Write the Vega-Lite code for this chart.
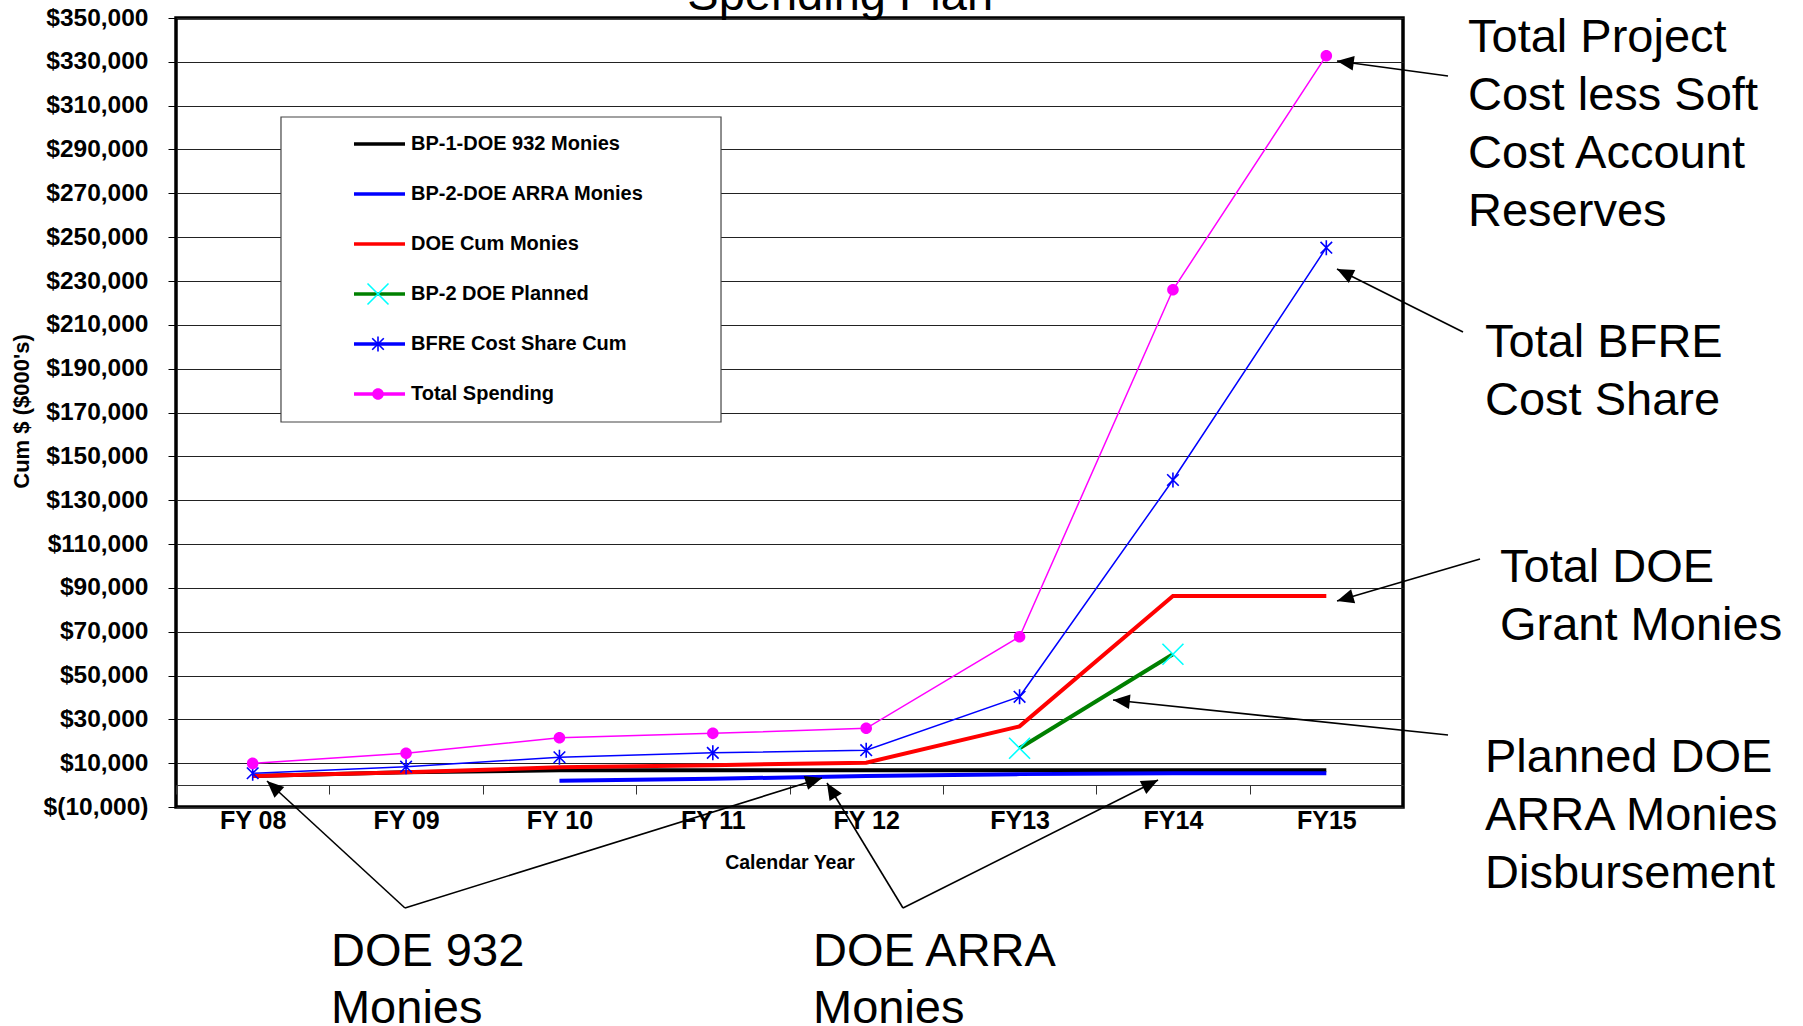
{
  "$schema": "https://vega.github.io/schema/vega-lite/v6.json",
  "width": 1227,
  "height": 789,
  "autosize": {"type": "none"},
  "padding": {"left": 176, "top": 18, "right": 400, "bottom": 219},
  "background": "#ffffff",
  "config": {"view": {"stroke": "#000000", "strokeWidth": 3.5}, "font": "Liberation Sans"},
  "datasets": {
    "spend": [
      {"series": "BP-1-DOE 932 Monies", "year": "FY 08", "value": 4100},
      {"series": "BP-1-DOE 932 Monies", "year": "FY 09", "value": 5800},
      {"series": "BP-1-DOE 932 Monies", "year": "FY 10", "value": 6800},
      {"series": "BP-1-DOE 932 Monies", "year": "FY 11", "value": 6800},
      {"series": "BP-1-DOE 932 Monies", "year": "FY 12", "value": 6800},
      {"series": "BP-1-DOE 932 Monies", "year": "FY13", "value": 6800},
      {"series": "BP-1-DOE 932 Monies", "year": "FY14", "value": 6800},
      {"series": "BP-1-DOE 932 Monies", "year": "FY15", "value": 6800},
      {"series": "BP-2-DOE ARRA Monies", "year": "FY 10", "value": 2000},
      {"series": "BP-2-DOE ARRA Monies", "year": "FY 11", "value": 2900},
      {"series": "BP-2-DOE ARRA Monies", "year": "FY 12", "value": 4100},
      {"series": "BP-2-DOE ARRA Monies", "year": "FY13", "value": 5000},
      {"series": "BP-2-DOE ARRA Monies", "year": "FY14", "value": 5400},
      {"series": "BP-2-DOE ARRA Monies", "year": "FY15", "value": 5400},
      {"series": "DOE Cum Monies", "year": "FY 08", "value": 4100},
      {"series": "DOE Cum Monies", "year": "FY 09", "value": 5900},
      {"series": "DOE Cum Monies", "year": "FY 10", "value": 8100},
      {"series": "DOE Cum Monies", "year": "FY 11", "value": 9100},
      {"series": "DOE Cum Monies", "year": "FY 12", "value": 10200},
      {"series": "DOE Cum Monies", "year": "FY13", "value": 26800},
      {"series": "DOE Cum Monies", "year": "FY14", "value": 86300},
      {"series": "DOE Cum Monies", "year": "FY15", "value": 86300},
      {"series": "BP-2 DOE Planned", "year": "FY13", "value": 16800},
      {"series": "BP-2 DOE Planned", "year": "FY14", "value": 59700},
      {"series": "BFRE Cost Share Cum", "year": "FY 08", "value": 5400},
      {"series": "BFRE Cost Share Cum", "year": "FY 09", "value": 8400},
      {"series": "BFRE Cost Share Cum", "year": "FY 10", "value": 12700},
      {"series": "BFRE Cost Share Cum", "year": "FY 11", "value": 14700},
      {"series": "BFRE Cost Share Cum", "year": "FY 12", "value": 15900},
      {"series": "BFRE Cost Share Cum", "year": "FY13", "value": 40300},
      {"series": "BFRE Cost Share Cum", "year": "FY14", "value": 139200},
      {"series": "BFRE Cost Share Cum", "year": "FY15", "value": 245200},
      {"series": "Total Spending", "year": "FY 08", "value": 9900},
      {"series": "Total Spending", "year": "FY 09", "value": 14500},
      {"series": "Total Spending", "year": "FY 10", "value": 21600},
      {"series": "Total Spending", "year": "FY 11", "value": 23600},
      {"series": "Total Spending", "year": "FY 12", "value": 25900},
      {"series": "Total Spending", "year": "FY13", "value": 67700},
      {"series": "Total Spending", "year": "FY14", "value": 226000},
      {"series": "Total Spending", "year": "FY15", "value": 332800}
    ]
  },
  "layer": [
    {
      "data": {"values": [{}]},
      "mark": {"type": "rect", "fill": "#ffffff", "stroke": "#444444", "strokeWidth": 1.2, "xOffset": 28.3, "x2Offset": 8.2},
      "encoding": {
        "x": {
          "datum": "FY 08", "bandPosition": 0.5,
          "scale": {"type": "band", "domain": ["FY 08", "FY 09", "FY 10", "FY 11", "FY 12", "FY13", "FY14", "FY15"], "paddingInner": 0, "paddingOuter": 0},
          "axis": {
            "title": "Calendar Year", "titleFont": "Liberation Sans", "titleFontSize": 19.5, "titleFontWeight": "bold", "titleColor": "#000000", "titleY": 83, "titleBaseline": "alphabetic",
            "offset": -22, "domain": true, "domainColor": "#333333", "domainWidth": 1.2,
            "ticks": true, "tickSize": 9, "tickColor": "#333333", "tickWidth": 1, "bandPosition": 0.5, "tickOffset": -76.6875, "labelOffset": 76.6875,
            "labelFont": "Liberation Sans", "labelFontSize": 25, "labelFontWeight": "bold", "labelColor": "#000000", "labelPadding": 14, "labelAngle": 0,
            "grid": false, "zindex": 0
          }
        },
        "x2": {"datum": "FY 11", "bandPosition": 0.5},
        "y": {
          "datum": 304829,
          "scale": {"domain": [-10000, 350000], "nice": false, "zero": false},
          "axis": {
            "title": "Cum $ ($000's)", "titleFont": "Liberation Sans", "titleFontSize": 22, "titleFontWeight": "bold", "titleColor": "#000000",
            "titleX": -155, "titleY": 393, "titleAngle": 270, "titleAlign": "center", "titleBaseline": "middle",
            "values": [-10000, 10000, 30000, 50000, 70000, 90000, 110000, 130000, 150000, 170000, 190000, 210000, 230000, 250000, 270000, 290000, 310000, 330000, 350000],
            "labelExpr": "datum.value < 0 ? '$(' + format(-datum.value, ',') + ')' : '$' + format(datum.value, ',')",
            "labelFont": "Liberation Sans", "labelFontSize": 24.5, "labelFontWeight": "bold", "labelColor": "#000000", "labelPadding": 20,
            "labelFlush": false, "labelOverlap": false,
            "tickSize": 8, "tickColor": "#000000", "tickWidth": 1,
            "domain": false, "grid": true, "gridColor": "#222222", "gridWidth": 1, "zindex": 0
          }
        },
        "y2": {"datum": 165665}
      }
    },
    {
      "data": {"name": "spend"},
      "transform": [{"filter": {"field": "series", "oneOf": ["BP-1-DOE 932 Monies", "BP-2-DOE ARRA Monies", "DOE Cum Monies", "BP-2 DOE Planned"]}}],
      "mark": {"type": "line", "strokeWidth": 4},
      "encoding": {
        "x": {"field": "year", "type": "nominal"},
        "y": {"field": "value", "type": "quantitative"},
        "stroke": {
          "field": "series", "type": "nominal",
          "scale": {"domain": ["BP-1-DOE 932 Monies", "BP-2-DOE ARRA Monies", "DOE Cum Monies", "BP-2 DOE Planned", "BFRE Cost Share Cum", "Total Spending"], "range": ["#000000", "#0000ff", "#ff0000", "#008000", "#0000ff", "#ff00ff"]},
          "legend": {
            "orient": "none", "legendX": 105, "legendY": 99, "title": null, "padding": 2,
            "symbolType": "stroke", "symbolSize": 2601, "symbolStrokeWidth": 3.5, "symbolOffset": 69,
            "labelFont": "Liberation Sans", "labelFontSize": 20, "labelFontWeight": "bold", "labelColor": "#000000", "labelOffset": 4, "labelLimit": 400,
            "clipHeight": 50, "rowPadding": 0
          }
        }
      }
    },
    {
      "data": {"name": "spend"},
      "transform": [{"filter": {"field": "series", "oneOf": ["BFRE Cost Share Cum", "Total Spending"]}}],
      "mark": {"type": "line", "strokeWidth": 1.5},
      "encoding": {
        "x": {"field": "year", "type": "nominal"},
        "y": {"field": "value", "type": "quantitative"},
        "stroke": {"field": "series", "type": "nominal"}
      }
    },
    {
      "data": {"name": "spend"},
      "transform": [{"filter": {"field": "series", "oneOf": ["BP-2 DOE Planned", "BFRE Cost Share Cum", "Total Spending"]}}],
      "mark": {"type": "point", "filled": true, "size": 400, "opacity": 1, "strokeWidth": 0},
      "encoding": {
        "x": {"field": "year", "type": "nominal"},
        "y": {"field": "value", "type": "quantitative"},
        "color": {
          "field": "series", "type": "nominal",
          "scale": {"domain": ["Total Spending", "BFRE Cost Share Cum", "BP-2 DOE Planned", "DOE Cum Monies", "BP-2-DOE ARRA Monies", "BP-1-DOE 932 Monies"], "range": ["#ff00ff", "#0000ff", "#00ffff", "transparent", "transparent", "transparent"]},
          "legend": {
            "orient": "top-left", "offset": 99, "title": null, "padding": 2,
            "values": ["BP-1-DOE 932 Monies", "BP-2-DOE ARRA Monies", "DOE Cum Monies", "BP-2 DOE Planned", "BFRE Cost Share Cum", "Total Spending"],
            "symbolSize": 400, "symbolStrokeWidth": 0, "symbolOffset": 91,
            "labelExpr": "''", "labelFont": "Liberation Sans", "labelFontSize": 20, "labelFontWeight": "bold", "labelOpacity": 0, "labelOffset": 4, "labelLimit": 400,
            "clipHeight": 50, "rowPadding": 0
          }
        },
        "shape": {
          "field": "series", "type": "nominal",
          "scale": {"domain": ["Total Spending", "BFRE Cost Share Cum", "BP-2 DOE Planned", "DOE Cum Monies", "BP-2-DOE ARRA Monies", "BP-1-DOE 932 Monies"],
            "range": [
              "M-0.58,0A0.58,0.58,0,1,1,0.58,0A0.58,0.58,0,1,1,-0.58,0Z",
              "M-0.08,-0.75L0.08,-0.75L0.08,0.75L-0.08,0.75ZM-0.523,-0.637L0.637,0.523L0.523,0.637L-0.637,-0.523ZM-0.523,0.637L-0.637,0.523L0.523,-0.637L0.637,-0.523Z",
              "M-0.993,-1.107L1.107,0.993L0.993,1.107L-1.107,-0.993ZM-0.993,1.107L-1.107,0.993L0.993,-1.107L1.107,-0.993Z",
              "M0,0L0,0Z", "M0,0L0,0Z", "M0,0L0,0Z"]},
          "legend": {
            "orient": "top-left", "offset": 99, "title": null, "padding": 2,
            "values": ["BP-1-DOE 932 Monies", "BP-2-DOE ARRA Monies", "DOE Cum Monies", "BP-2 DOE Planned", "BFRE Cost Share Cum", "Total Spending"],
            "symbolSize": 400, "symbolStrokeWidth": 0, "symbolOffset": 91,
            "labelExpr": "''", "labelFont": "Liberation Sans", "labelFontSize": 20, "labelFontWeight": "bold", "labelOpacity": 0, "labelOffset": 4, "labelLimit": 400,
            "clipHeight": 50, "rowPadding": 0
          }
        }
      }
    },
    {
      "data": {"values": [{}]},
      "mark": {"type": "text", "align": "center", "baseline": "alphabetic", "font": "Liberation Sans", "fontSize": 47, "color": "#000000", "dx": -26},
      "encoding": {"x": {"datum": "FY 12"}, "y": {"datum": 353878}, "text": {"value": "Spending Plan"}}
    },
    {
      "data": {"values": [{}]},
      "mark": {"type": "text", "align": "left", "baseline": "alphabetic", "font": "Liberation Sans", "fontSize": 47, "lineHeight": 57.7, "color": "#000000", "dx": 141.7},
      "encoding": {"x": {"datum": "FY15"}, "y": {"datum": 334259}, "text": {"value": ["Total Project", "Cost less Soft", "Cost Account", "Reserves"]}}
    },
    {
      "data": {"values": [{}]},
      "mark": {"type": "text", "align": "left", "baseline": "alphabetic", "font": "Liberation Sans", "fontSize": 47, "lineHeight": 57.7, "color": "#000000", "dx": 158.7},
      "encoding": {"x": {"datum": "FY15"}, "y": {"datum": 195323}, "text": {"value": ["Total BFRE", "Cost Share"]}}
    },
    {
      "data": {"values": [{}]},
      "mark": {"type": "text", "align": "left", "baseline": "alphabetic", "font": "Liberation Sans", "fontSize": 47, "lineHeight": 57.7, "color": "#000000", "dx": 173.7},
      "encoding": {"x": {"datum": "FY15"}, "y": {"datum": 92661}, "text": {"value": ["Total DOE", "Grant Monies"]}}
    },
    {
      "data": {"values": [{}]},
      "mark": {"type": "text", "align": "left", "baseline": "alphabetic", "font": "Liberation Sans", "fontSize": 47, "lineHeight": 58, "color": "#000000", "dx": 158.7},
      "encoding": {"x": {"datum": "FY15"}, "y": {"datum": 5969}, "text": {"value": ["Planned DOE", "ARRA Monies", "Disbursement"]}}
    },
    {
      "data": {"values": [{}]},
      "mark": {"type": "text", "align": "left", "baseline": "alphabetic", "font": "Liberation Sans", "fontSize": 47, "lineHeight": 57, "color": "#000000", "dx": -75.1},
      "encoding": {"x": {"datum": "FY 09"}, "y": {"datum": -82548}, "text": {"value": ["DOE 932", "Monies"]}}
    },
    {
      "data": {"values": [{}]},
      "mark": {"type": "text", "align": "left", "baseline": "alphabetic", "font": "Liberation Sans", "fontSize": 47, "lineHeight": 57, "color": "#000000", "dx": -53.2},
      "encoding": {"x": {"datum": "FY 12"}, "y": {"datum": -82548}, "text": {"value": ["DOE ARRA", "Monies"]}}
    },
    {
      "data": {"values": [{}]},
      "mark": {"type": "rule", "color": "#000000", "strokeWidth": 1.6, "xOffset": 10.7, "x2Offset": 121.7},
      "encoding": {"x": {"datum": "FY15", "bandPosition": 0.5}, "x2": {"datum": "FY15", "bandPosition": 0.5}, "y": {"datum": 330380}, "y2": {"datum": 323536}}
    },
    {
      "data": {"values": [{}]},
      "mark": {"type": "rule", "color": "#000000", "strokeWidth": 1.6, "xOffset": 10.7, "x2Offset": 136.7},
      "encoding": {"x": {"datum": "FY15", "bandPosition": 0.5}, "x2": {"datum": "FY15", "bandPosition": 0.5}, "y": {"datum": 235475}, "y2": {"datum": 206730}}
    },
    {
      "data": {"values": [{}]},
      "mark": {"type": "rule", "color": "#000000", "strokeWidth": 1.6, "xOffset": 10.7, "x2Offset": 153.7},
      "encoding": {"x": {"datum": "FY15", "bandPosition": 0.5}, "x2": {"datum": "FY15", "bandPosition": 0.5}, "y": {"datum": 83992}, "y2": {"datum": 103156}}
    },
    {
      "data": {"values": [{}]},
      "mark": {"type": "rule", "color": "#000000", "strokeWidth": 1.6, "xOffset": -59.9, "x2Offset": 121.7},
      "encoding": {"x": {"datum": "FY14", "bandPosition": 0.5}, "x2": {"datum": "FY15", "bandPosition": 0.5}, "y": {"datum": 38821}, "y2": {"datum": 22852}}
    },
    {
      "data": {"values": [{}]},
      "mark": {"type": "rule", "color": "#000000", "strokeWidth": 1.6, "xOffset": 14.3, "x2Offset": -1.1},
      "encoding": {"x": {"datum": "FY 08", "bandPosition": 0.5}, "x2": {"datum": "FY 09", "bandPosition": 0.5}, "y": {"datum": 1863}, "y2": {"datum": -56084}}
    },
    {
      "data": {"values": [{}]},
      "mark": {"type": "rule", "color": "#000000", "strokeWidth": 1.6, "xOffset": -44.2, "x2Offset": -1.1},
      "encoding": {"x": {"datum": "FY 12", "bandPosition": 0.5}, "x2": {"datum": "FY 09", "bandPosition": 0.5}, "y": {"datum": 3232}, "y2": {"datum": -56084}}
    },
    {
      "data": {"values": [{}]},
      "mark": {"type": "rule", "color": "#000000", "strokeWidth": 1.6, "xOffset": -39.2, "x2Offset": 36.8},
      "encoding": {"x": {"datum": "FY 12", "bandPosition": 0.5}, "x2": {"datum": "FY 12", "bandPosition": 0.5}, "y": {"datum": 950}, "y2": {"datum": -56084}}
    },
    {
      "data": {"values": [{}]},
      "mark": {"type": "rule", "color": "#000000", "strokeWidth": 1.6, "xOffset": -14.9, "x2Offset": 36.8},
      "encoding": {"x": {"datum": "FY14", "bandPosition": 0.5}, "x2": {"datum": "FY 12", "bandPosition": 0.5}, "y": {"datum": 2319}, "y2": {"datum": -56084}}
    },
    {
      "data": {"values": [{}]},
      "mark": {"type": "point", "shape": "M0,0L2.1,-0.9L2.1,0.9Z", "size": 256, "filled": true, "color": "#000000", "opacity": 1, "strokeWidth": 0, "angle": 7.7, "xOffset": 10.7},
      "encoding": {"x": {"datum": "FY15"}, "y": {"datum": 330380}}
    },
    {
      "data": {"values": [{}]},
      "mark": {"type": "point", "shape": "M0,0L2.1,-0.9L2.1,0.9Z", "size": 256, "filled": true, "color": "#000000", "opacity": 1, "strokeWidth": 0, "angle": 26.6, "xOffset": 10.7},
      "encoding": {"x": {"datum": "FY15"}, "y": {"datum": 235475}}
    },
    {
      "data": {"values": [{}]},
      "mark": {"type": "point", "shape": "M0,0L2.1,-0.9L2.1,0.9Z", "size": 256, "filled": true, "color": "#000000", "opacity": 1, "strokeWidth": 0, "angle": -16.4, "xOffset": 10.7},
      "encoding": {"x": {"datum": "FY15"}, "y": {"datum": 83992}}
    },
    {
      "data": {"values": [{}]},
      "mark": {"type": "point", "shape": "M0,0L2.1,-0.9L2.1,0.9Z", "size": 256, "filled": true, "color": "#000000", "opacity": 1, "strokeWidth": 0, "angle": 6.0, "xOffset": -59.9},
      "encoding": {"x": {"datum": "FY14"}, "y": {"datum": 38821}}
    },
    {
      "data": {"values": [{}]},
      "mark": {"type": "point", "shape": "M0,0L2.1,-0.9L2.1,0.9Z", "size": 256, "filled": true, "color": "#000000", "opacity": 1, "strokeWidth": 0, "angle": 42.6, "xOffset": 14.3},
      "encoding": {"x": {"datum": "FY 08"}, "y": {"datum": 1863}}
    },
    {
      "data": {"values": [{}]},
      "mark": {"type": "point", "shape": "M0,0L2.1,-0.9L2.1,0.9Z", "size": 256, "filled": true, "color": "#000000", "opacity": 1, "strokeWidth": 0, "angle": 162.7, "xOffset": -44.2},
      "encoding": {"x": {"datum": "FY 12"}, "y": {"datum": 3232}}
    },
    {
      "data": {"values": [{}]},
      "mark": {"type": "point", "shape": "M0,0L2.1,-0.9L2.1,0.9Z", "size": 256, "filled": true, "color": "#000000", "opacity": 1, "strokeWidth": 0, "angle": 58.7, "xOffset": -39.2},
      "encoding": {"x": {"datum": "FY 12"}, "y": {"datum": 950}}
    },
    {
      "data": {"values": [{}]},
      "mark": {"type": "point", "shape": "M0,0L2.1,-0.9L2.1,0.9Z", "size": 256, "filled": true, "color": "#000000", "opacity": 1, "strokeWidth": 0, "angle": 153.3, "xOffset": -14.9},
      "encoding": {"x": {"datum": "FY14"}, "y": {"datum": 2319}}
    }
  ]
}
